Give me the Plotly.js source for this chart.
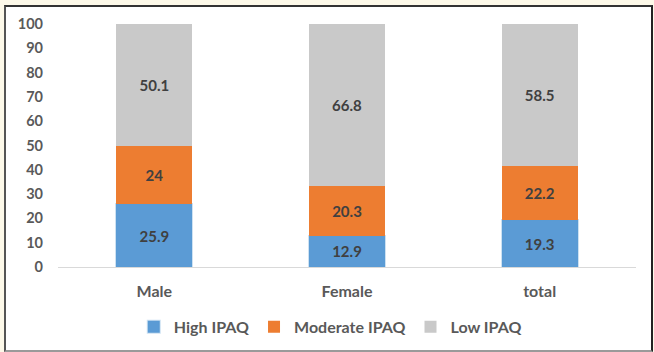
<!DOCTYPE html>
<html>
<head>
<meta charset="utf-8">
<script src="https://cdn.plot.ly/plotly-3.0.1.min.js"></script>
<style>
  html, body { margin: 0; padding: 0; width: 654px; height: 352px; background: #fdf9e9; overflow: hidden; }
  #frame { position: absolute; left: 4px; top: 5px; width: 645px; height: 343px; background: #ffffff;
           border-left: 2px solid #555; border-top: 2px solid #333; border-right: 2px solid #222; border-bottom: 2px solid #9a9a9a; }
  #chart { position: absolute; left: 0; top: 0; width: 654px; height: 352px; }
</style>
</head>
<body>
<div id="frame"></div>
<div id="chart"></div>
<script>
const categories = ["Male", "Female", "total"];
const highIPAQ = [25.9, 12.9, 19.3];
const moderateIPAQ = [24, 20.3, 22.2];
const lowIPAQ = [50.1, 66.8, 58.5];
const yTicks = [0, 10, 20, 30, 40, 50, 60, 70, 80, 90, 100];

const fontFam = "Lato, 'Liberation Sans', sans-serif";
function mk(name, vals, color, line) {
  return {
    type: 'bar', name: name, x: categories, y: vals,
    marker: { color: color, line: line || { width: 0 } },
    text: vals.map(v => String(v)), textposition: 'inside', insidetextanchor: 'middle',
    textfont: { family: fontFam, size: 15, color: '#404040', weight: 'bold' },
    hoverinfo: 'skip'
  };
}
const data = [
  mk('High IPAQ', highIPAQ, '#5b9bd5', { width: 2, color: 'rgba(91,155,213,0.3)' }),
  mk('Moderate IPAQ', moderateIPAQ, '#ed7d31'),
  mk('Low IPAQ', lowIPAQ, '#c9c9c9')
];
const layout = {
  width: 654, height: 352,
  margin: { l: 58, r: 18, t: 24, b: 85 },
  paper_bgcolor: 'rgba(0,0,0,0)', plot_bgcolor: 'rgba(0,0,0,0)',
  barmode: 'stack', bargap: 0.605,
  showlegend: true,
  font: { family: fontFam, size: 14, color: '#595959', weight: 'bold' },
  xaxis: {
    showgrid: false, zeroline: false, showline: true, linecolor: '#d9d9d9', linewidth: 1,
    ticks: '', ticklabelstandoff: 10,
    tickfont: { family: fontFam, size: 16, color: '#595959', weight: 'bold' }
  },
  yaxis: {
    range: [0, 100], tickvals: yTicks, ticktext: yTicks.map(String),
    showgrid: false, zeroline: false, showline: false, ticks: '', ticklabelstandoff: 14,
    tickfont: { family: fontFam, size: 14.5, color: '#595959', weight: 'bold' }
  },
  legend: {
    orientation: 'h', xref: 'container', yref: 'container',
    x: 0.505, xanchor: 'center', y: 0.12, yanchor: 'top',
    font: { family: fontFam, size: 16, color: '#595959', weight: 'bold' },
    itemwidth: 30, traceorder: 'normal'
  }
};
Plotly.newPlot('chart', data, layout, { staticPlot: true, displayModeBar: false });
</script>
</body>
</html>
